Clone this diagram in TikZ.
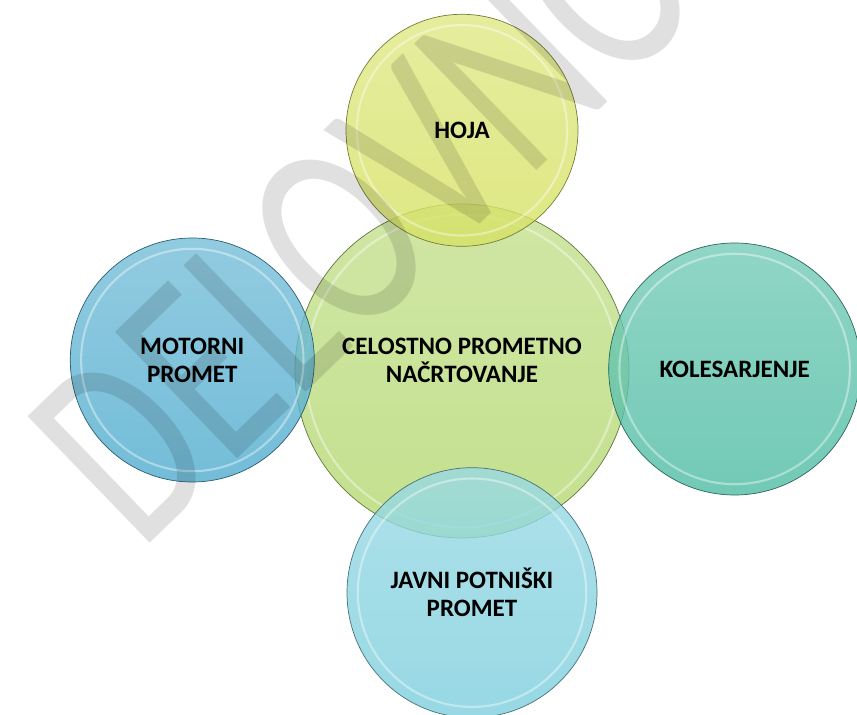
\documentclass[tikz,border=0pt]{standalone}
\usepackage{fontspec}
\setmainfont{Carlito}
\usetikzlibrary{positioning, calc}

\begin{document}
\begin{tikzpicture}[node distance=1cm, font=\fontsize{17.8}{19.9}\selectfont\bfseries, align=center]
        % Define colors
        \definecolor{centergreen}{RGB}{180,216,112}
        \definecolor{walkyellow}{RGB}{214,226,100}
        \definecolor{motorblue}{RGB}{80,172,206}
        \definecolor{cycleteal}{RGB}{78,188,164}
        \definecolor{transitcyan}{RGB}{125,207,221}

        \tikzset{bubble/.style={circle, draw=#1!55!black, line width=0.5pt, top color=#1!78!white, bottom color=#1,
            fill opacity=0.8, text opacity=1, inner sep=0pt,
            path picture={\draw[white, line width=1.5pt, draw opacity=0.4]
                let \p1=($(path picture bounding box.north)-(path picture bounding box.center)$) in
                (path picture bounding box.center) circle ({\y1-0.27cm});}}}

        % Area
        \useasboundingbox (-11.55,-8.6) rectangle (9.875,9.275);
        \clip (-11.55,-8.6) rectangle (9.875,9.275);

        % Nodes
        \node[bubble=centergreen, minimum size=8.35cm, text depth=0.55cm] (center) {CELOSTNO PROMETNO\\NAČRTOVANJE};
        \node[bubble=walkyellow, minimum size=5.8cm, above=-1.075cm of center] (hoja) {HOJA};
        \node[bubble=motorblue, minimum size=6.1cm, left=-0.5cm of center, yshift=0.275cm] (motorni) {MOTORNI\\PROMET};
        \node[bubble=cycleteal, minimum size=6.3cm, right=-0.525cm of center, yshift=0.05cm] (kolesarjenje) {KOLESARJENJE};
        \node[bubble=transitcyan, minimum size=6.25cm, below=-1.775cm of center, xshift=0.25cm] (javni) {JAVNI POTNIŠKI\\PROMET};

        % Watermark
        \node[rotate=44, xscale=0.72, anchor=base west, inner sep=0pt, text=black, text opacity=0.12,
            font=\fontsize{195}{195}\selectfont] (watermark) at (-8.05,-4.55) {DELOVNO};
    \end{tikzpicture}
\end{document}
